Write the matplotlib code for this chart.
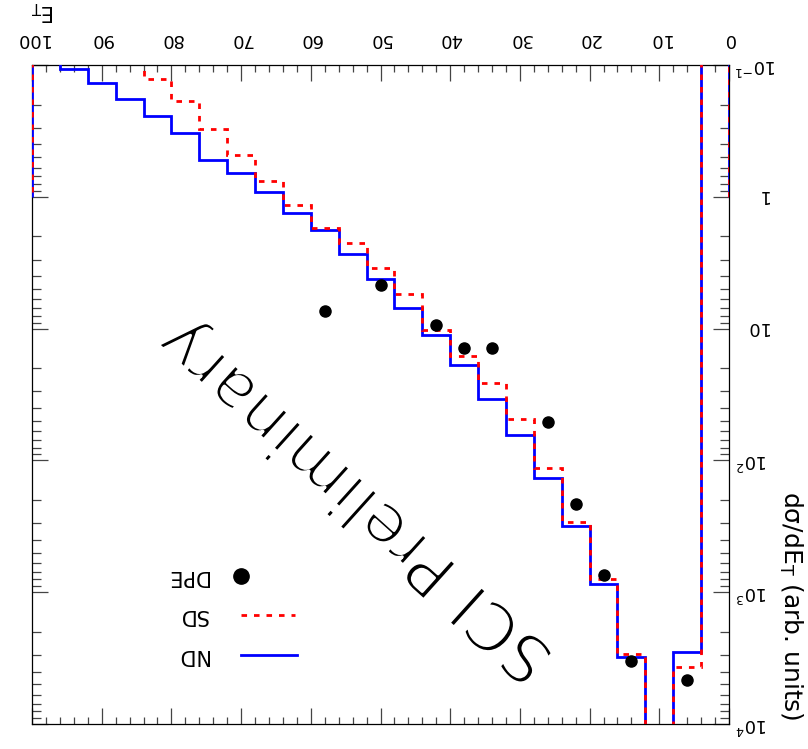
import numpy as np
import matplotlib.pyplot as plt
import matplotlib.transforms as mtransforms
import matplotlib.patheffects as pe
from matplotlib.ticker import MultipleLocator, LogLocator, NullFormatter

plt.rcParams['font.family'] = ['DejaVu Sans']
plt.rcParams['mathtext.default'] = 'regular'

# E_T bins (width 4)
et_edges = np.arange(0, 101, 4)

# ND and SD histograms, one value per bin (0 = empty, below the frame)
nd = [0, 2830, 20000, 3080, 863, 317, 135, 63.8, 34.0, 18.8, 11.1, 6.97, 4.18,
      2.70, 1.80, 1.32, 0.923, 0.658, 0.530, 0.327, 0.242, 0.182, 0.136, 0.107, 0]
sd = [0, 3670, 20000, 2950, 794, 294, 115, 48.4, 25.8, 16.2, 10.3, 5.42, 3.47,
      2.26, 1.72, 1.15, 0.753, 0.480, 0.308, 0.189, 0.127, 0, 0, 0, 0]

# DPE points
dpe_et = [6, 14, 18, 22, 26, 34, 38, 42, 50, 58]
dpe = [4620, 3320, 741, 214, 51.3, 14.1, 14.1, 9.44, 4.69, 7.40]

ytick_vals = [0.1, 1, 10, 100, 1000, 10000]
ytick_labels = ['$10^{-1}$', '1', '10', '$10^{2}$', '$10^{3}$', '$10^{4}$']

fig = plt.figure(figsize=(8.08, 7.49), dpi=100)
ax = fig.add_axes([32/808, 25/749, 697/808, 659/749])
ax.set_yscale('log')

floor = 1e-3
ax.stairs(np.clip(nd, floor, None), et_edges, baseline=1, color='blue', lw=2, zorder=3)
ax.stairs(np.clip(sd, floor, None), et_edges, baseline=1, color='red', lw=2,
          linestyle=(0, (2, 2.5)), zorder=4)
ax.plot(dpe_et, dpe, 'o', color='black', ms=8, zorder=5)

# whole picture is turned upside down
ax.set_xlim(100, 0)
ax.set_ylim(1e4, 0.1)

ax.xaxis.set_major_locator(MultipleLocator(10))
ax.xaxis.set_minor_locator(MultipleLocator(2))
ax.yaxis.set_major_locator(LogLocator(base=10))
ax.yaxis.set_minor_locator(LogLocator(base=10, subs=np.arange(2, 10)))
ax.yaxis.set_minor_formatter(NullFormatter())

ax.tick_params(axis='x', which='both', direction='in', top=True, bottom=True,
               labeltop=True, labelbottom=False, labelrotation=180, pad=12,
               labelsize=13, color='#444')
ax.tick_params(axis='x', which='major', length=11.5, width=0.9)
ax.tick_params(axis='x', which='minor', length=5, width=0.9)
ax.tick_params(axis='y', which='both', direction='in', left=True, right=True,
               labelleft=False, labelright=False, color='#444')
ax.tick_params(axis='y', which='major', length=11.5, width=0.9)
ax.tick_params(axis='y', which='minor', length=6.5, width=0.9)
for s in ax.spines.values():
    s.set_linewidth(0.9)

# y tick labels, upside down
trans = mtransforms.blended_transform_factory(ax.transAxes, ax.transData)
trans = mtransforms.offset_copy(trans, fig=fig, x=0, y=4.6, units='points')
for v, lab in zip(ytick_vals, ytick_labels):
    xa = 1.069 if v == 0.1 else 1.056
    ax.text(xa, v, lab, transform=trans, rotation=180, rotation_mode='anchor',
            ha='left', va='baseline', fontsize=13, clip_on=False)

ax.text(0.015, 1.082, 'E$_T$', transform=ax.transAxes, rotation=180,
        ha='center', va='center', fontsize=15)
ax.text(1.088, 0.18, r'd$\sigma$/dE$_T$ (arb. units)', transform=ax.transAxes,
        rotation=270, ha='center', va='center', fontsize=18)

# thin the big label by eroding the glyph edges with a white outline
ax.text(0.466, 0.34, 'SCI Preliminary', transform=ax.transAxes, rotation=138,
        ha='center', va='center', fontsize=48, zorder=1,
        path_effects=[pe.Normal(), pe.Stroke(linewidth=2.2, foreground='white')])

# legend
ax.plot([0.300], [0.225], 'o', color='black', ms=11, transform=ax.transAxes)
ax.plot([0.300, 0.377], [0.165, 0.165], color='red', lw=2, linestyle=(0, (2, 2.5)),
        transform=ax.transAxes)
ax.plot([0.300, 0.380], [0.104, 0.104], color='blue', lw=2, transform=ax.transAxes)
for yy, name in [(0.225, 'DPE'), (0.165, 'SD'), (0.104, 'ND')]:
    ax.text(0.2525, yy, name, transform=ax.transAxes, rotation=180,
            ha='right', va='center', fontsize=15)

fig.savefig('out.png', dpi=100)
